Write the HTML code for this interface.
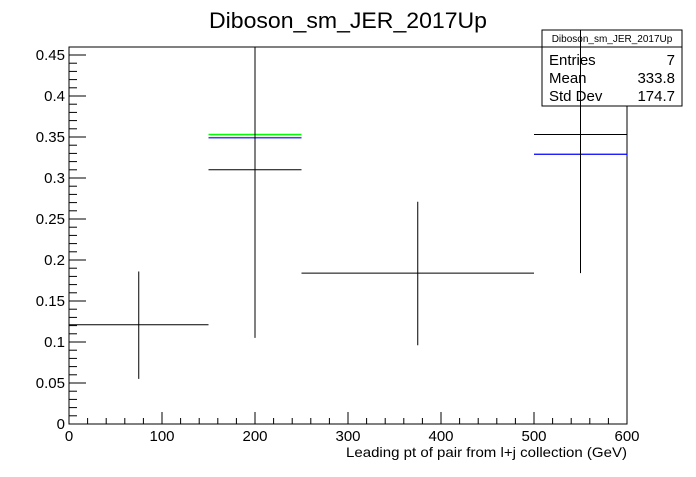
<!DOCTYPE html>
<html><head><meta charset="utf-8"><style>
body{margin:0;background:#fff}
svg text{font-family:"Liberation Sans",Arial,sans-serif}
</style></head><body>
<svg width="696" height="472" viewBox="0 0 696 472" xmlns="http://www.w3.org/2000/svg">
<rect width="696" height="472" fill="#fff"/>
<text x="209" y="28" font-size="22" textLength="278" lengthAdjust="spacingAndGlyphs">Diboson_sm_JER_2017Up</text>
<g id="axes"></g>
<g id="marks"></g>
<g>
<rect x="542" y="30" width="140" height="76" fill="#fff" stroke="#000" stroke-width="1"/>
<line x1="542" y1="47" x2="682" y2="47" stroke="#000"/>
<text x="612" y="42" font-size="10" text-anchor="middle">Diboson_sm_JER_2017Up</text>
<text x="549" y="65" font-size="15">Entries</text>
<text x="675" y="65" font-size="15" text-anchor="end">7</text>
<text x="549" y="83" font-size="15">Mean</text>
<text x="675" y="83" font-size="15" text-anchor="end">333.8</text>
<text x="549" y="101" font-size="15">Std Dev</text>
<text x="675" y="101" font-size="15" text-anchor="end">174.7</text>
</g>
<g id="over"></g>
</svg>
<script>
const binLow=[0,150,250,500];
const binHigh=[150,250,500,600];
const values=[0.121,0.31,0.184,0.353];
const errLow=[0.055,0.105,0.096,0.184];
const errHigh=[0.186,0.46,0.271,0.48];
const greenBins=[1];
const greenValues=[0.353];
const blueBins=[1,3];
const blueValues=[0.349,0.329];
const xTicks=[0,100,200,300,400,500,600];
const yTicks=[0,0.05,0.1,0.15,0.2,0.25,0.3,0.35,0.4,0.45];
const yTickLabels=["0","0.05","0.1","0.15","0.2","0.25","0.3","0.35","0.4","0.45"];

const X0=69,X1=627,Y0=424,YT=47;
const xs=v=>X0+(v-0)/(600-0)*(X1-X0);
const ys=v=>Y0-v*820;
const NS="http://www.w3.org/2000/svg";
function mk(parent,tag,attrs){const e=document.createElementNS(NS,tag);for(const k in attrs)e.setAttribute(k,attrs[k]);parent.appendChild(e);return e;}
const axes=document.getElementById('axes'),marks=document.getElementById('marks'),over=document.getElementById('over');
const frame=mk(axes,'rect',{x:X0,y:YT,width:X1-X0,height:Y0-YT,fill:'none',stroke:'#000','stroke-width':1});


for(let v=0;v<=600;v+=20){
  const major=v%100===0;
  const t=mk(axes,'line',{x1:xs(v),x2:xs(v),y1:Y0,y2:Y0-(major?12:6),stroke:'#000'});
  
  
}
xTicks.forEach(v=>{
  const t=mk(axes,'text',{x:xs(v),y:Y0+17,'font-size':15,'text-anchor':'middle'});
  t.textContent=v;
  
  
});
for(let i=0;i<=45;i++){
  const v=i*0.01,major=i%5===0;
  const t=mk(axes,'line',{x1:X0,x2:X0+(major?17:8),y1:ys(v),y2:ys(v),stroke:'#000'});
  
  
}
yTicks.forEach((v,i)=>{
  const t=mk(axes,'text',{x:X0-4,y:ys(v)+5,'font-size':15,'text-anchor':'end'});
  t.textContent=yTickLabels[i];
  
  
});
const xt=mk(axes,'text',{x:346,y:457,'font-size':14,textLength:281,lengthAdjust:'spacingAndGlyphs'});
xt.textContent='Leading pt of pair from l+j collection (GeV)';



values.forEach((v,i)=>{
  const g=mk(marks,'g',{});
  
  
  mk(g,'line',{x1:xs(binLow[i]),x2:xs(binHigh[i]),y1:ys(v),y2:ys(v),stroke:'#000'});
  const xc=xs((binLow[i]+binHigh[i])/2);
  mk(over,'line',{x1:xc,x2:xc,y1:ys(errLow[i]),y2:Math.max(30,ys(errHigh[i])),stroke:'#000'});
});
greenBins.forEach((b,i)=>{
  const l=mk(marks,'line',{x1:xs(binLow[b]),x2:xs(binHigh[b]),y1:ys(greenValues[i]),y2:ys(greenValues[i]),stroke:'#00ff00','stroke-width':1.5});
  
  
});
blueBins.forEach((b,i)=>{
  const l=mk(marks,'line',{x1:xs(binLow[b]),x2:xs(binHigh[b]),y1:ys(blueValues[i]),y2:ys(blueValues[i]),stroke:'#0000ff','stroke-width':1.2});
  
  
});
</script>
</body></html>
